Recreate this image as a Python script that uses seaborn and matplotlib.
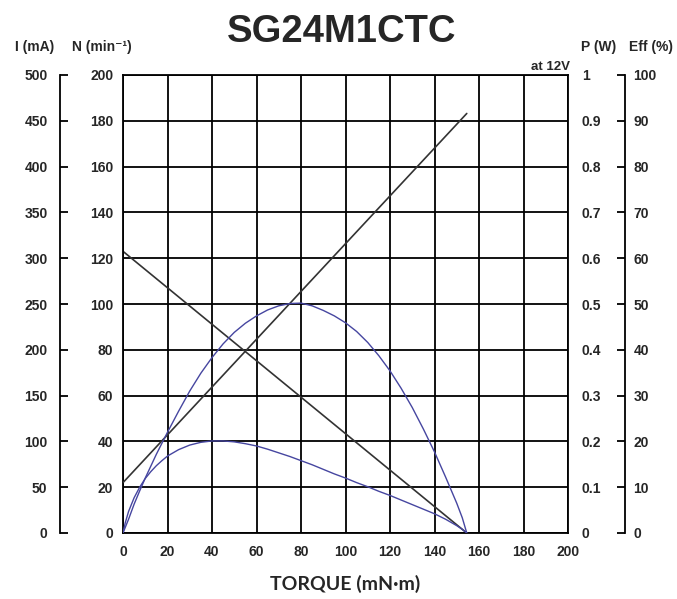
import numpy as np
import pandas as pd
import matplotlib
matplotlib.use("Agg")
import matplotlib.pyplot as plt
import seaborn as sns

# values
line_torque = [0, 154.5]
speed_rpm = [123, 0]
current_ma = [55, 458]

curve_torque = [0, 1, 2.5, 5, 7.5, 10, 12.5, 15, 17.5, 20, 25, 30, 35, 40, 45, 50, 55, 60, 65,
                70, 75, 80, 85, 90, 95, 100, 105, 110, 115, 120, 125, 130, 135, 140, 145, 150,
                152.5, 154.5]
power_w = [0, 0.012, 0.03, 0.063, 0.092, 0.12, 0.146, 0.172, 0.196, 0.22, 0.266, 0.31, 0.349,
           0.383, 0.413, 0.438, 0.458, 0.474, 0.487, 0.496, 0.501, 0.502, 0.496, 0.486, 0.474,
           0.459, 0.44, 0.416, 0.387, 0.354, 0.316, 0.274, 0.227, 0.177, 0.122, 0.065, 0.033, 0]
eff_pct = [0, 2.2, 4.7, 7.7, 10.0, 11.9, 13.4, 14.7, 15.8, 16.8, 18.2, 19.2, 19.8, 20.1, 20.1,
           19.9, 19.5, 19.0, 18.3, 17.5, 16.7, 15.8, 14.9, 13.9, 12.9, 12.0, 11.0, 10.1, 9.1,
           8.2, 7.2, 6.2, 5.2, 4.2, 3.0, 1.6, 0.8, 0]

x_ticks = list(range(0, 201, 20))
n_ticks = list(range(0, 201, 20))
i_ticks = list(range(0, 501, 50))
p_ticks = [0, 0.1, 0.2, 0.3, 0.4, 0.5, 0.6, 0.7, 0.8, 0.9, 1]
p_labels = ["0", "0.1", "0.2", "0.3", "0.4", "0.5", "0.6", "0.7", "0.8", "0.9", "1"]
e_ticks = list(range(0, 101, 10))

sns.set_style("white")
plt.rcParams['font.family'] = ['Liberation Sans', 'DejaVu Sans']
plt.rcParams['font.weight'] = 'bold'

W, H = 677, 599
fig = plt.figure(figsize=(W / 100, H / 100), dpi=100)
L, R, T, B = 123, 568, 75, 533
ax = fig.add_axes([L / W, 1 - B / H, (R - L) / W, (B - T) / H])

lines_df = pd.DataFrame({'torque': line_torque, 'speed': speed_rpm, 'current': current_ma})
curves_df = pd.DataFrame({'torque': curve_torque, 'power': power_w, 'eff': eff_pct})

black = '#333333'
blue = '#4646a0'
lab_fs = 10

# main axes: speed N
ax.set_xlim(0, 200)
ax.set_ylim(0, 200)
ax.set_xticks(x_ticks)
ax.set_yticks(n_ticks)
ax.grid(True, color='black', linewidth=1.3)
ax.set_axisbelow(True)
for s in ax.spines.values():
    s.set_color('black')
    s.set_linewidth(1.3)
ax.tick_params(axis='both', length=0, labelsize=lab_fs)
ax.tick_params(axis='y', pad=7)
ax.tick_params(axis='x', pad=9)
sns.lineplot(data=lines_df, x='torque', y='speed', ax=ax, color=black, linewidth=1.2)
ax.set_xlabel('')
ax.set_ylabel('')

# current I axis (outer left)
axI = ax.twinx()
axI.set_ylim(0, 500)
axI.set_yticks(i_ticks)
for k, s in axI.spines.items():
    s.set_visible(k == 'left')
axI.spines['left'].set_position(('axes', -63 / (R - L)))
axI.spines['left'].set_linewidth(1.3)
axI.spines['left'].set_color('black')
axI.yaxis.set_ticks_position('left')
axI.tick_params(axis='y', direction='in', length=6, width=1.3, color='black', labelsize=lab_fs, pad=9)
sns.lineplot(data=lines_df, x='torque', y='current', ax=axI, color=black, linewidth=1.2)
axI.set_ylabel('')
axI.set_xlabel('')

# power P axis (inner right)
axP = ax.twinx()
axP.set_ylim(0, 1)
axP.set_yticks(p_ticks)
axP.set_yticklabels(p_labels)
for s in axP.spines.values():
    s.set_visible(False)
axP.tick_params(axis='y', length=0, labelsize=lab_fs, pad=10)
sns.lineplot(data=curves_df, x='torque', y='power', ax=axP, color=blue, linewidth=1.0)
axP.set_ylabel('')

# efficiency axis (outer right)
axE = ax.twinx()
axE.set_ylim(0, 100)
axE.set_yticks(e_ticks)
for k, s in axE.spines.items():
    s.set_visible(k == 'right')
axE.spines['right'].set_position(('axes', 1 + 57 / (R - L)))
axE.spines['right'].set_linewidth(1.3)
axE.spines['right'].set_color('black')
axE.tick_params(axis='y', direction='in', length=6, width=1.3, color='black', labelsize=lab_fs, pad=6)
sns.lineplot(data=curves_df, x='torque', y='eff', ax=axE, color=blue, linewidth=1.0)
axE.set_ylabel('')
axE.set_xlabel('')

ax.set_xlim(0, 200)

# texts
def px(x, y):
    return x / W, 1 - y / H

fig.text(*px(342, 32), 'SG24M1CTC', fontsize=27.5, fontweight='bold', ha='center', va='center')
fig.text(*px(35, 47), 'I (mA)', fontsize=10, fontweight='bold', ha='center', va='center')
fig.text(*px(102, 47), 'N (min⁻¹)', fontsize=10, fontweight='bold', ha='center', va='center')
fig.text(*px(599, 47), 'P (W)', fontsize=10, fontweight='bold', ha='center', va='center')
fig.text(*px(651, 47), 'Eff (%)', fontsize=10, fontweight='bold', ha='center', va='center')
fig.text(*px(570, 67), 'at 12V', fontsize=9.5, fontweight='bold', ha='right', va='center')
fig.text(*px(345, 584), 'TORQUE (mN·m)', fontsize=14, fontweight='bold', ha='center', va='center',
         family=['Lato', 'DejaVu Sans'])

fig.savefig('out.png', dpi=100)
